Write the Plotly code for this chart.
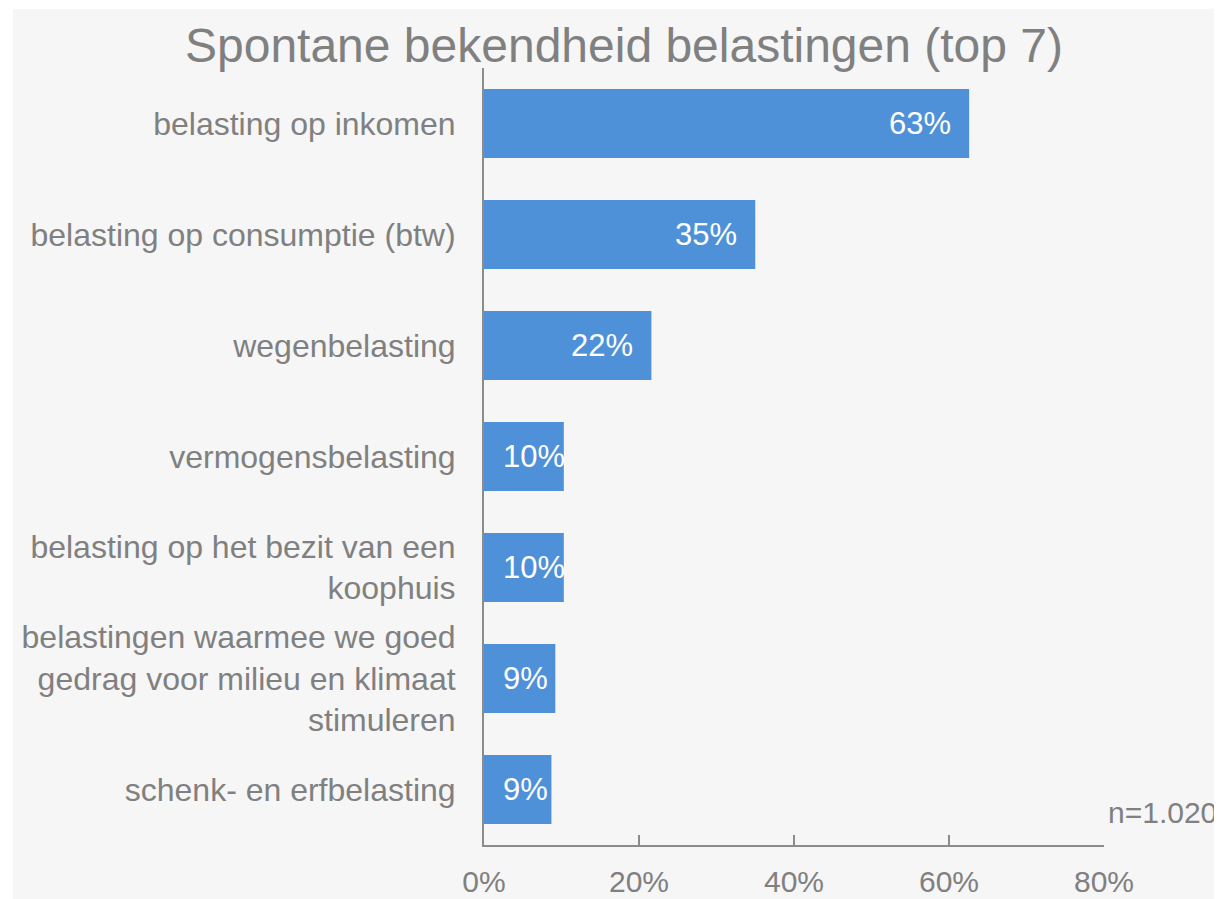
import plotly.graph_objects as go

categories = [
    "belasting op inkomen",
    "belasting op consumptie (btw)",
    "wegenbelasting",
    "vermogensbelasting",
    "belasting op het bezit van een<br>koophuis",
    "belastingen waarmee we goed<br>gedrag voor milieu en klimaat<br>stimuleren",
    "schenk- en erfbelasting",
]
values = [62.6, 35.0, 21.6, 10.3, 10.3, 9.2, 8.7]
value_labels = ["63%", "35%", "22%", "10%", "10%", "9%", "9%"]
tick_values = [0, 20, 40, 60, 80]
tick_labels = ["0%", "20%", "40%", "60%", "80%"]

TITLE = "Spontane bekendheid belastingen (top 7)"
NOTE = "n=1.020"

GREY = "#808080"
BAR = "#4F91D8"
BG = "#F6F6F6"
FONT = "Liberation Sans, Arial, Helvetica, sans-serif"

W, H = 1214, 891
L, R, T, B = 476, 118, 60, 54
pw, ph = W - L - R, H - T - B


def px_to_paper_x(px):
    return (px - L) / pw


def px_to_paper_y(py):
    return (H - B - py) / ph


fig = go.Figure()
fig.add_trace(go.Bar(
    x=values, y=categories, orientation="h",
    marker=dict(color=BAR, line=dict(width=0)),
    hoverinfo="skip",
))

for cat, v, lab in zip(categories, values, value_labels):
    if v >= 15:
        fig.add_annotation(x=v, y=cat, text=lab, showarrow=False,
                           xanchor="right", xshift=-16, yanchor="middle",
                           font=dict(family=FONT, size=31, color="white"))
    else:
        fig.add_annotation(x=0, y=cat, text=lab, showarrow=False,
                           xanchor="left", xshift=17, yanchor="middle",
                           font=dict(family=FONT, size=31, color="white"))

fig.add_annotation(xref="paper", yref="paper",
                   x=px_to_paper_x(1211), y=px_to_paper_y(804),
                   text=NOTE, showarrow=False, xanchor="right", yanchor="middle",
                   font=dict(family=FONT, size=30, color=GREY))

fig.add_shape(type="rect", xref="paper", yref="paper", layer="below",
              x0=px_to_paper_x(5), x1=px_to_paper_x(W + 20),
              y0=px_to_paper_y(H + 20), y1=px_to_paper_y(1),
              fillcolor=BG, line=dict(width=0))

fig.update_layout(
    width=W, height=H,
    margin=dict(l=L, r=R, t=T, b=B, pad=0, autoexpand=False),
    paper_bgcolor="white",
    plot_bgcolor="rgba(0,0,0,0)",
    showlegend=False,
    bargap=0.38,
    title=dict(text=TITLE, x=616 / W, xanchor="center", xref="container",
               y=1 - 37 / H, yanchor="middle", yref="container",
               font=dict(family=FONT, size=48, color=GREY)),
    xaxis=dict(range=[0, 80], tickvals=tick_values, ticktext=tick_labels,
               showgrid=False, zeroline=False, automargin=False,
               showline=True, linecolor="#8C8C8C", linewidth=2,
               ticks="inside", ticklen=10, tickwidth=1.5, tickcolor="#8C8C8C",
               ticklabelstandoff=9,
               tickfont=dict(family=FONT, size=30, color=GREY),
               fixedrange=True),
    yaxis=dict(autorange="reversed", showgrid=False, zeroline=False,
               automargin=False,
               showline=True, linecolor="#8C8C8C", linewidth=2,
               ticks="", ticklabelstandoff=20,
               tickfont=dict(family=FONT, size=32, color=GREY),
               fixedrange=True),
)

fig.write_html("out.html")
